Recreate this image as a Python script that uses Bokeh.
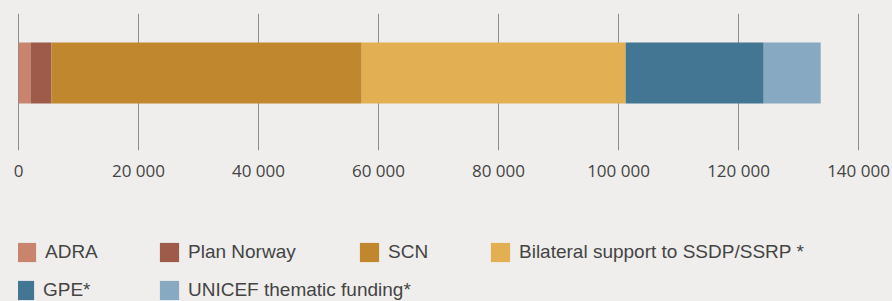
import numpy as np
from bokeh.plotting import figure
from bokeh.layouts import column
from bokeh.models import Range1d, Span, Legend, LegendItem, FixedTicker, ColumnDataSource
from bokeh.embed import file_html
from bokeh.resources import INLINE

# ---- data ----
categories = ["ADRA", "Plan Norway", "SCN", "Bilateral support to SSDP/SSRP *",
              "GPE*", "UNICEF thematic funding*"]
amounts = [2000, 3500, 51700, 44000, 23000, 9500]
colors = ["#c9846e", "#9e5b49", "#c0872e", "#e2af52", "#437692", "#87a9c2"]
tick_values = [0, 20000, 40000, 60000, 80000, 100000, 120000, 140000]
tick_labels = ["0", "20 000", "40 000", "60 000", "80 000", "100 000", "120 000", "140 000"]

BG = "#efeeec"
W = 892
H1, H2 = 200, 101

rights = np.cumsum(amounts)
lefts = rights - np.array(amounts)
src = ColumnDataSource(dict(y=[0.566] * len(amounts), left=lefts, right=rights,
                            color=colors, name=categories))

p = figure(width=W, height=H1, x_range=Range1d(0, 143000), y_range=Range1d(0, 1),
           output_backend="svg", toolbar_location=None,
           min_border_left=18, min_border_right=16, min_border_top=13,
           min_border_bottom=H1 - 150)
p.background_fill_color = BG
p.border_fill_color = BG
p.outline_line_color = None
p.yaxis.visible = False
p.ygrid.visible = False

p.xgrid.ticker = FixedTicker(ticks=tick_values)
p.xgrid.grid_line_color = "#8c8c8c"
p.xgrid.grid_line_width = 1

zero = Span(location=0, dimension="height", line_color="#2a2a2a", line_width=1, level="underlay")
p.add_layout(zero)

r = p.hbar(y="y", left="left", right="right", height=0.445, color="color",
           line_color=None, source=src)

ax = p.xaxis[0]
ax.ticker = FixedTicker(ticks=tick_values)
ax.major_label_overrides = {v: l for v, l in zip(tick_values, tick_labels)}
ax.axis_line_color = None
ax.major_tick_line_color = None
ax.minor_tick_line_color = None
ax.major_label_text_font = "Open Sans"
ax.major_label_text_font_size = "17px"
ax.major_label_text_color = "#444444"
ax.major_label_standoff = 2

# ---- legend panel (second figure, whole area is its frame) ----
p2 = figure(width=W, height=H2, x_range=Range1d(0, 143000), y_range=Range1d(10, 11),
            output_backend="svg", toolbar_location=None,
            min_border_left=0, min_border_right=0, min_border_top=0, min_border_bottom=0)
p2.background_fill_color = BG
p2.border_fill_color = BG
p2.outline_line_color = None
p2.axis.visible = False
p2.grid.visible = False
r2 = p2.hbar(y="y", left="left", right="right", height=0.445, color="color",
             line_color=None, source=src)  # off-screen, only feeds the legend swatches

leg_x = [17, 160, 360, 491, 15, 160]
leg_y = [52, 52, 52, 52, 90, 90]  # centers, local to legend panel
for i, name in enumerate(categories):
    lg = Legend(items=[LegendItem(label=name, renderers=[r2], index=i)],
                location=(leg_x[i] - 21, H2 - (leg_y[i] + 12)),
                padding=0, margin=0, border_line_alpha=0, background_fill_alpha=0,
                glyph_width=24, glyph_height=24, label_height=24, label_standoff=7,
                label_text_font="Liberation Sans", label_text_font_size="19px",
                label_text_color="#444444")
    p2.add_layout(lg, "center")

layout = column(p, p2, spacing=0)
html = file_html(layout, INLINE)
html = html.replace("<head>", "<head><style>body{background:%s;}</style>" % BG, 1)
open("out.html", "w").write(html)
